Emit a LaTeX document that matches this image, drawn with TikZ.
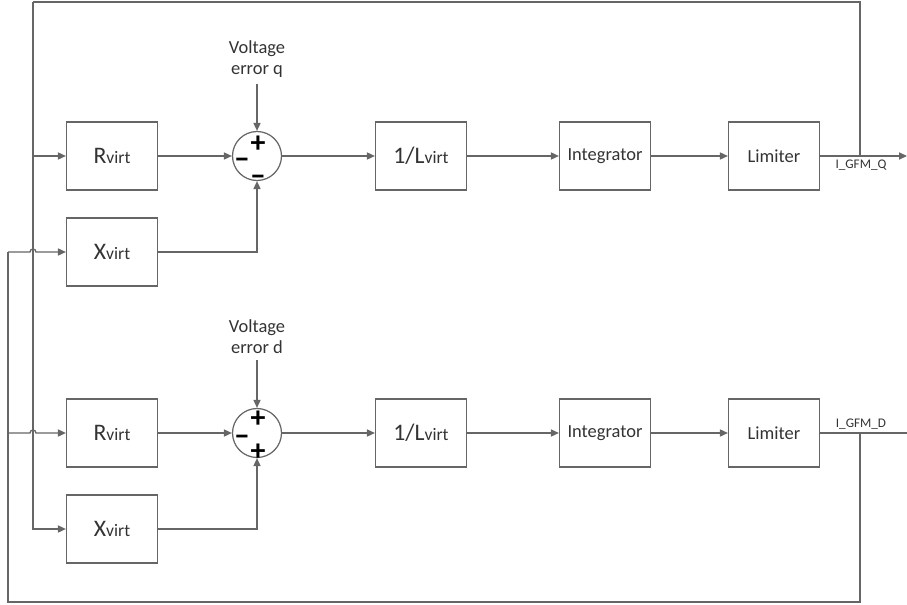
\documentclass[tikz,border=0pt]{standalone}
\usepackage{fontspec}
\setmainfont{Carlito}
\usetikzlibrary{arrows.meta}

\providecommand{\vcLineColor}{black!60}
\providecommand{\vcTextColor}{black!80}
\newcommand{\virtname}[2]{{\fontsize{13.5}{15}\selectfont #1}{\fontsize{10}{11}\selectfont #2}}

\begin{document}
\begin{tikzpicture}[x=0.02cm, y=-0.02cm,
  blockbox/.style={draw=\vcLineColor, line width=0.7pt, minimum width=1.82cm,
    minimum height=1.36cm, text=\vcTextColor, font=\fontsize{10.5}{12}\selectfont},
  sumnode/.style={draw=\vcLineColor, line width=0.7pt, circle, minimum size=0.98cm, inner sep=0pt},
  plustxt/.style={inner sep=0pt, font=\bfseries\fontsize{17}{17}\selectfont},
  minustxt/.style={inner sep=0pt, font=\bfseries\fontsize{18}{18}\selectfont},
  wire/.style={draw=\vcLineColor, line width=0.75pt},
  sig/.style={wire, -{Triangle[length=4.5pt, width=4pt]}},
  errtxt/.style={align=center, text=\vcTextColor, font=\fontsize{10.5}{12}\selectfont},
  outtxt/.style={inner sep=1pt, text=\vcTextColor, font=\fontsize{7.5}{8}\selectfont}]
\useasboundingbox (0,0) rectangle (907,605);

% q axis row
\node[blockbox] (rq) at (112,156) {\virtname{R}{virt}};
\node[blockbox] (xq) at (112,252) {\virtname{X}{virt}};
\node[sumnode] (sq) at (257,156) {};
\node[blockbox] (lq) at (421,156) {\virtname{1/L}{virt}};
\node[blockbox] (iq) at (605,156) {Integrator};
\node[blockbox] (mq) at (774,156) {Limiter};
\node[errtxt] (eq) at (257,59) {Voltage\\error q};
\node[plustxt] (sqt) at (258,144) {+};
\node[minustxt] (sql) at (242,163) {–};
\node[minustxt] (sqb) at (258,180) {–};
\node[outtxt] (oq) at (861,165) {I\_GFM\_Q};

% d axis row
\node[blockbox] (rd) at (112,433) {\virtname{R}{virt}};
\node[blockbox] (xd) at (112,529) {\virtname{X}{virt}};
\node[sumnode] (sd) at (257,433) {};
\node[blockbox] (ld) at (421,433) {\virtname{1/L}{virt}};
\node[blockbox] (id) at (605,433) {Integrator};
\node[blockbox] (md) at (774,433) {Limiter};
\node[errtxt] (ed) at (257,337) {Voltage\\error d};
\node[plustxt] (sdt) at (258,419) {+};
\node[minustxt] (sdl) at (242,440) {–};
\node[plustxt] (sdb) at (258,452) {+};
\node[outtxt] (od) at (861,424) {I\_GFM\_D};

% junctions and corners
\coordinate (jq) at (860,156);
\coordinate (jd) at (860,433);
\coordinate (tq) at (907,156);
\coordinate (td) at (907,433);
\coordinate (ctl) at (33,2);
\coordinate (bq) at (33,156);
\coordinate (cbl) at (8,602);
\coordinate (bd) at (8,433);
\coordinate (cxl) at (8,252);

% forward paths
\draw[sig] (rq) -- (sq);
\draw[sig] (xq) -| (sq);
\draw[sig] (eq) -- (sq);
\draw[sig] (sq) -- (lq);
\draw[sig] (lq) -- (iq);
\draw[sig] (iq) -- (mq);
\draw[sig] (mq) -- (tq);
\draw[sig] (rd) -- (sd);
\draw[sig] (xd) -| (sd);
\draw[sig] (ed) -- (sd);
\draw[sig] (sd) -- (ld);
\draw[sig] (ld) -- (id);
\draw[sig] (id) -- (md);
\draw[wire] (md) -- (td);

% feedback of I_GFM_Q
\draw[wire] (jq) |- (ctl);
\draw[sig] (ctl) |- (xd);
\draw[sig] (bq) -- (rq);

% feedback of I_GFM_D
\draw[wire] (jd) |- (cbl) -- (cxl);
\draw[sig] (cxl) -- (30,252) arc[start angle=180, end angle=360, radius=3] -- (xq);
\draw[sig] (bd) -- (30,433) arc[start angle=180, end angle=360, radius=3] -- (rd);
\end{tikzpicture}
\end{document}
